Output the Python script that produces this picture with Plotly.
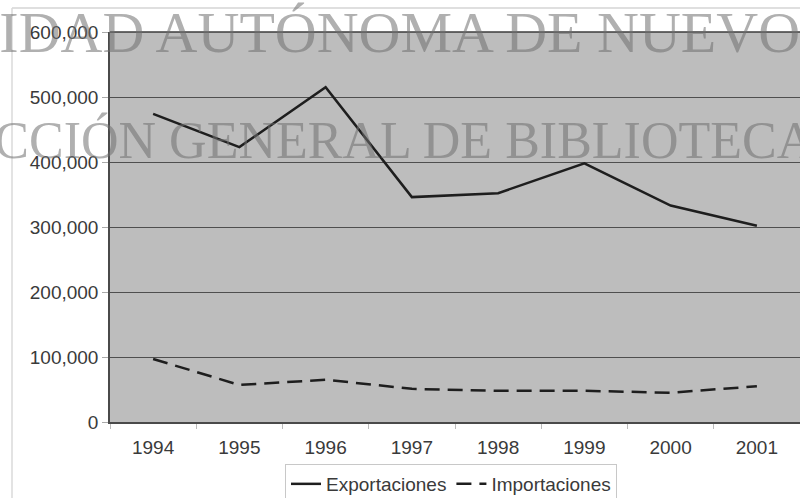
import plotly.graph_objects as go

# Trade series, 1994-2001
years = ["1994", "1995", "1996", "1997", "1998", "1999", "2000", "2001"]
exportaciones = [474000, 423000, 515000, 346000, 352000, 398000, 333000, 302000]
importaciones = [97000, 57000, 65000, 51000, 48000, 48000, 45000, 55000]
y_ticks = [0, 100000, 200000, 300000, 400000, 500000, 600000]

watermark_lines = ["UNIVERSIDAD AUTÓNOMA DE NUEVO LEÓN", "DIRECCIÓN GENERAL DE BIBLIOTECAS"]

W, H = 800, 498
L, R, T, B = 110, 0, 32, 76
plot_w, plot_h = W - L - R, H - T - B


def px_x(px):
    return (px - L) / plot_w


def px_y(py):
    return (H - B - py) / plot_h


text_font = dict(family="Liberation Sans, Arial, sans-serif", size=19, color="#3a3a3a")
legend_font = dict(family="Liberation Sans, Arial, sans-serif", size=19, color="#3a3a3a")

fig = go.Figure()
fig.add_trace(go.Scatter(
    x=years, y=exportaciones, name="Exportaciones", mode="lines",
    line=dict(color="#1e1e1e", width=2.5),
))
fig.add_trace(go.Scatter(
    x=years, y=importaciones, name="Importaciones", mode="lines",
    line=dict(color="#1e1e1e", width=2.5, dash="15px,8px"),
))

fig.update_layout(
    width=W, height=H,
    margin=dict(l=L, r=R, t=T, b=B, autoexpand=False),
    paper_bgcolor="white",
    plot_bgcolor="#bdbdbd",
    showlegend=True,
    legend=dict(
        orientation="h",
        x=px_x(285), xanchor="left",
        y=px_y(464), yanchor="top",
        font=legend_font,
        bordercolor="#c8c8c8", borderwidth=1,
        bgcolor="white",
        itemwidth=30,
        tracegroupgap=0,
    ),
    xaxis=dict(
        type="category",
        range=[-0.5, len(years) - 0.5],
        showgrid=False,
        showline=True, linecolor="#4a4a4a", linewidth=1.5,
        ticks="outside", tickson="boundaries", ticklen=5, tickcolor="#bbbbbb",
        tickfont=text_font,
        ticklabelstandoff=7,
        zeroline=False,
        fixedrange=True,
    ),
    yaxis=dict(
        range=[0, 600000],
        tickvals=y_ticks,
        tickformat=",d",
        showgrid=True, gridcolor="#4f4f4f", gridwidth=1,
        showline=True, linecolor="#4a4a4a", linewidth=1.5,
        ticks="outside", ticklen=6, tickcolor="#aaaaaa",
        tickfont=text_font,
        zeroline=False,
        fixedrange=True,
    ),
)

# top border of plot area
fig.add_shape(type="line", xref="paper", yref="paper", x0=0, x1=1, y0=1, y1=1,
              line=dict(color="#3c3c3c", width=1.5))

# outer frame lines of the page
fig.add_shape(type="line", xref="paper", yref="paper",
              x0=px_x(12), x1=1.0, y0=px_y(8), y1=px_y(8),
              line=dict(color="#d4d4d4", width=1.5))
fig.add_shape(type="line", xref="paper", yref="paper",
              x0=px_x(12), x1=px_x(12), y0=px_y(8), y1=px_y(498),
              line=dict(color="#dadada", width=1.5))

# library watermark
wm_specs = [(watermark_lines[0], 58, 32), (watermark_lines[1], 52, 140)]
for text, size, cy in wm_specs:
    fig.add_annotation(
        text=text, xref="paper", yref="paper",
        x=px_x(358), y=px_y(cy), xanchor="center", yanchor="middle",
        showarrow=False,
        font=dict(family="Liberation Serif, Times New Roman, serif", size=size,
                  color="rgba(112,112,112,0.55)"),
    )

fig.write_html("out.html")
